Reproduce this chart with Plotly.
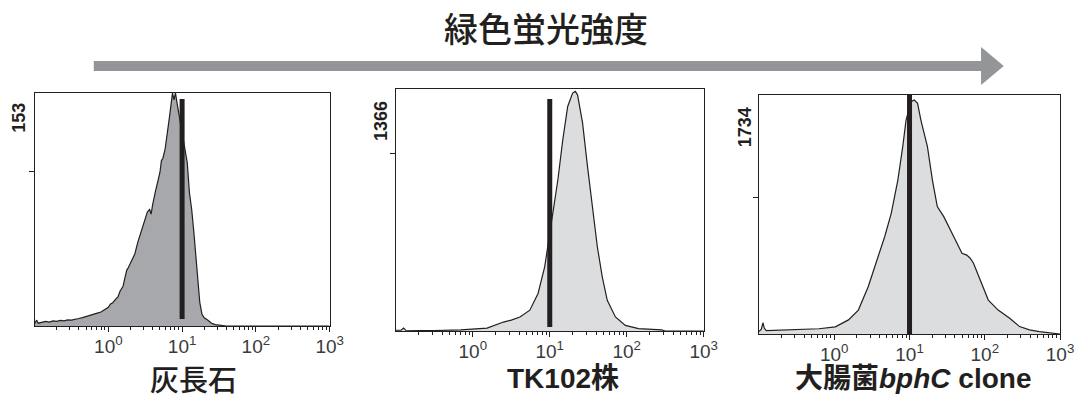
import plotly.graph_objects as go

W, H = 1077, 398

# ---------------- data ----------------
# x: log10 of green fluorescence intensity, y: relative cell count (fraction of panel max)
anorthite_log = [-1.0, -0.97, -0.95, -0.9, -0.85, -0.8, -0.75, -0.7, -0.65, -0.6, -0.55, -0.5, -0.45,
                 -0.4, -0.35, -0.3, -0.25, -0.2, -0.15, -0.1, -0.05, 0.0, 0.03, 0.06, 0.1, 0.13, 0.16,
                 0.2, 0.22, 0.25, 0.27, 0.3, 0.33, 0.36, 0.4, 0.43, 0.46, 0.5, 0.53, 0.56, 0.58, 0.6,
                 0.62, 0.64, 0.67, 0.7, 0.72, 0.74, 0.77, 0.79, 0.81, 0.83, 0.85, 0.87, 0.89, 0.91,
                 0.93, 0.95, 0.97, 1.0, 1.03, 1.07, 1.1, 1.13, 1.16, 1.19, 1.21, 1.24, 1.27, 1.3,
                 1.35, 1.4, 1.45, 1.5, 1.6, 3.0]
anorthite_cnt = [0.01, 0.025, 0.012, 0.015, 0.02, 0.017, 0.022, 0.02, 0.024, 0.022, 0.026, 0.025, 0.03,
                 0.032, 0.036, 0.04, 0.045, 0.05, 0.055, 0.06, 0.07, 0.08, 0.095, 0.1, 0.115, 0.125, 0.15,
                 0.17, 0.2, 0.24, 0.25, 0.27, 0.29, 0.31, 0.36, 0.39, 0.43, 0.46, 0.49, 0.5, 0.48, 0.52,
                 0.56, 0.58, 0.62, 0.66, 0.71, 0.72, 0.76, 0.8, 0.85, 0.9, 0.95, 1.0, 0.97, 1.0,
                 0.96, 0.92, 0.9, 0.82, 0.76, 0.70, 0.57, 0.5, 0.4, 0.28, 0.2, 0.1, 0.05, 0.035,
                 0.025, 0.012, 0.006, 0.003, 0.0, 0.0]

tk102_log = [-1.0, -0.93, -0.9, -0.87, -0.5, -0.157, 0.185, 0.3, 0.399, 0.5, 0.613, 0.741, 0.848,
             0.934, 0.998, 1.041, 1.105, 1.169, 1.233, 1.297, 1.332, 1.361, 1.426, 1.49, 1.554,
             1.618, 1.682, 1.747, 1.853, 1.982, 2.153, 2.452, 2.5, 3.0]
tk102_cnt = [0.003, 0.003, 0.012, 0.003, 0.002, 0.005, 0.012, 0.025, 0.037, 0.045, 0.058, 0.086, 0.155,
             0.265, 0.403, 0.486, 0.624, 0.79, 0.928, 0.983, 0.99, 0.976, 0.86, 0.68, 0.514,
             0.348, 0.224, 0.127, 0.058, 0.023, 0.01, 0.005, 0.0, 0.0]

ecoli_log = [-1.0, -0.969, -0.948, -0.93, -0.904, -0.554, -0.204, 0.014, 0.189, 0.32, 0.451, 0.583,
             0.67, 0.757, 0.845, 0.91, 0.954, 1.02, 1.063, 1.107, 1.151, 1.238, 1.304, 1.369,
             1.457, 1.588, 1.697, 1.76, 1.807, 1.85, 1.938, 2.047, 2.178, 2.331, 2.462, 2.594,
             2.725, 2.943, 3.0]
ecoli_cnt = [0.01, 0.02, 0.047, 0.025, 0.014, 0.017, 0.022, 0.03, 0.059, 0.1, 0.198, 0.324,
             0.407, 0.505, 0.644, 0.784, 0.895, 0.972, 0.979, 0.965, 0.895, 0.784, 0.644, 0.533,
             0.49, 0.407, 0.338, 0.33, 0.317, 0.296, 0.226, 0.142, 0.1, 0.066, 0.031, 0.017,
             0.01, 0.004, 0.0]

panel_names = ["灰長石", "TK102株", "大腸菌<i>bphC</i> clone"]
panel_max_counts = ["153", "1366", "1734"]
threshold_value = 10          # vertical marker at 10^1
threshold_span = [(0.03, 0.974), (0.017, 0.959), (0.0, 1.0)]
ytick_frac = [0.665, 0.735, 0.573]
x_tick_vals = [1, 10, 100, 1000]
x_tick_text = ["10<sup>0</sup>", "10<sup>1</sup>", "10<sup>2</sup>", "10<sup>3</sup>"]
x_minor_vals = [m * d for d in (0.1, 1, 10, 100) for m in range(2, 10)]
title_text = "緑色蛍光強度"

# ---------------- layout geometry (pixels) ----------------
frames = [(35, 334, 93, 326), (401, 713, 89, 331), (769, 1074, 95, 334)]
fills = ["#a7a8ab", "#dcdddf", "#dcdddf"]
ylab_pos = [(19, 118), (386, 121), (755, 127)]
name_pos = [(196, 378), (570, 378), (925, 378)]

series = [(anorthite_log, anorthite_cnt), (tk102_log, tk102_cnt), (ecoli_log, ecoli_cnt)]

fig = go.Figure()
ink = "#231f20"

for i, ((xl, yc), (x0, x1, y0, y1)) in enumerate(zip(series, frames)):
    ax = "" if i == 0 else str(i + 1)
    xa, ya = "x" + ax, "y" + ax
    fig.add_trace(go.Scatter(
        x=[10 ** v for v in xl], y=yc, mode="lines", fill="tozeroy",
        fillcolor=fills[i], line=dict(color=ink, width=1.2, shape="linear"),
        xaxis=xa, yaxis=ya, hoverinfo="skip", showlegend=False))
    lo, hi = threshold_span[i]
    fig.add_trace(go.Scatter(
        x=[threshold_value, threshold_value], y=[lo, hi], mode="lines",
        line=dict(color=ink, width=5), xaxis=xa, yaxis=ya,
        hoverinfo="skip", showlegend=False))
    fig.layout["xaxis" + ax] = dict(
        type="log", range=[-1, 3], domain=[x0 / W, x1 / W], anchor=ya,
        showline=True, mirror=True, linecolor=ink, linewidth=1,
        showgrid=False, zeroline=False,
        tickvals=x_tick_vals, ticktext=x_tick_text, ticks="outside", ticklen=5,
        tickcolor=ink, tickwidth=1, ticklabelstandoff=-2,
        tickfont=dict(family="Liberation Sans, Arial", size=19, color="#3a3a3a"),
        minor=dict(tickvals=x_minor_vals, ticks="outside", ticklen=3, tickcolor=ink, tickwidth=1,
                   showgrid=False))
    fig.layout["yaxis" + ax] = dict(
        range=[0, 1.0], domain=[1 - y1 / H, 1 - y0 / H], anchor=xa,
        showline=True, mirror=True, linecolor=ink, linewidth=1,
        showgrid=False, zeroline=False,
        tickvals=[ytick_frac[i]], ticks="outside", ticklen=5, tickcolor=ink,
        showticklabels=False)
    fig.add_annotation(x=ylab_pos[i][0] / W, y=1 - ylab_pos[i][1] / H, xref="paper", yref="paper",
                       text="<b>" + panel_max_counts[i] + "</b>", textangle=-90, showarrow=False,
                       xanchor="center", yanchor="middle",
                       font=dict(family="Liberation Sans, Arial", size=18, color=ink))

# bottom sample names
fig.add_annotation(x=name_pos[0][0] / W, y=1 - name_pos[0][1] / H, xref="paper", yref="paper",
                   text=panel_names[0], showarrow=False, xanchor="center", yanchor="middle",
                   font=dict(family="Noto Sans CJK JP", size=29, color=ink, weight=500))
for i in (1, 2):
    fig.add_annotation(x=name_pos[i][0] / W, y=1 - name_pos[i][1] / H, xref="paper", yref="paper",
                       text="<b>" + panel_names[i] + "</b>", showarrow=False,
                       xanchor="center", yanchor="middle",
                       font=dict(family="Liberation Sans, Noto Sans CJK JP", size=28, color=ink))

# title and arrow
fig.add_annotation(x=553 / W, y=1 - 27 / H, xref="paper", yref="paper", text=title_text,
                   showarrow=False, xanchor="center", yanchor="middle",
                   font=dict(family="Noto Sans CJK JP", size=34, color=ink, weight=500))
arrow_col = "#939598"
fig.add_shape(type="rect", xref="paper", yref="paper",
              x0=95 / W, x1=996 / W, y0=1 - 71 / H, y1=1 - 61 / H,
              fillcolor=arrow_col, line=dict(width=0))
fig.add_shape(type="path", xref="paper", yref="paper",
              path=f"M {994 / W} {1 - 47 / H} L {1017 / W} {1 - 66 / H} L {994 / W} {1 - 85 / H} Z",
              fillcolor=arrow_col, line=dict(width=0))

fig.update_layout(width=W, height=H, margin=dict(l=0, r=0, t=0, b=0),
                  paper_bgcolor="white", plot_bgcolor="white")

fig.write_html("out.html")
